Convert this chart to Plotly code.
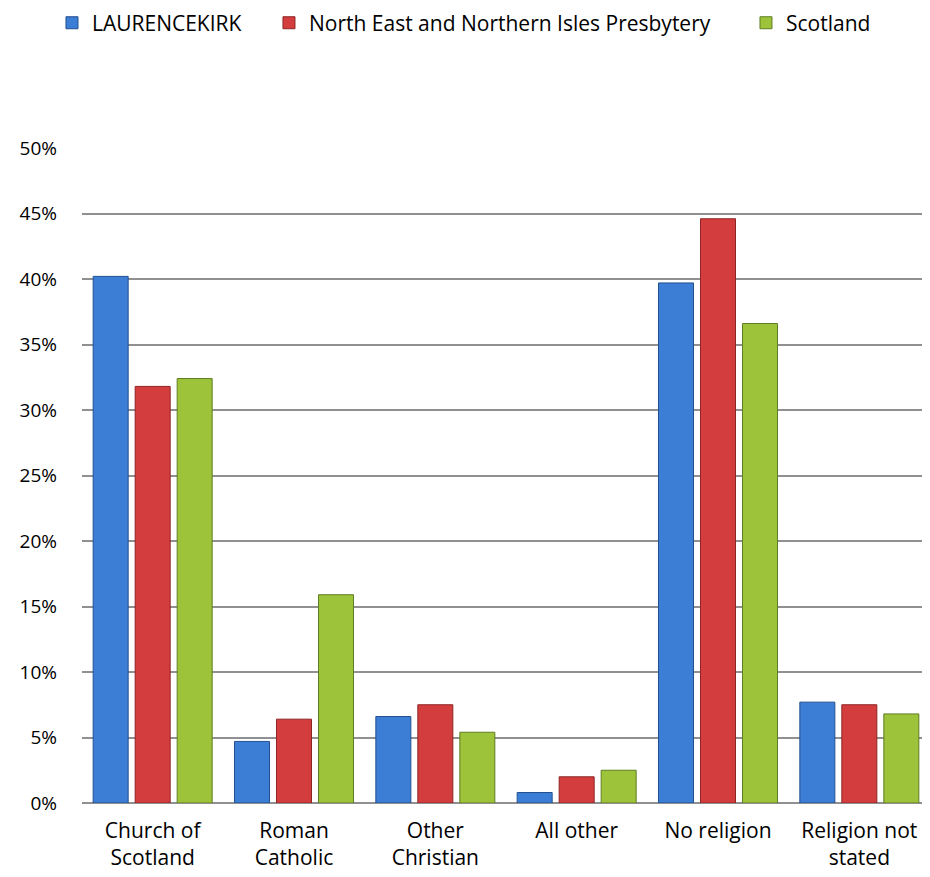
import plotly.graph_objects as go

categories = ["Church of<br>Scotland", "Roman<br>Catholic", "Other<br>Christian", "All other", "No religion", "Religion not<br>stated"]
laurencekirk = [40.2, 4.7, 6.6, 0.8, 39.7, 7.7]
presbytery = [31.8, 6.4, 7.5, 2.0, 44.6, 7.5]
scotland = [32.4, 15.9, 5.4, 2.5, 36.6, 6.8]
tick_vals = [0, 5, 10, 15, 20, 25, 30, 35, 40, 45, 50]
tick_text = ["0%", "5%", "10%", "15%", "20%", "25%", "30%", "35%", "40%", "45%", "50%"]

series = [
    ("LAURENCEKIRK", laurencekirk, "#3C7DD6", "#22508F", "legend", -0.0354),
    ("North East and Northern Isles Presbytery", presbytery, "#D43D3D", "#8E2525", "legend2", 0.2205),
    ("Scotland", scotland, "#9DC33B", "#5E7E22", "legend3", 0.783),
]

font_family = "Open Sans, Lato, sans-serif"
fig = go.Figure()
legends = {}
for name, vals, col, edge, lg, lx in series:
    fig.add_trace(go.Bar(
        name=name, x=categories, y=vals, legend=lg,
        marker=dict(color=col, line=dict(color=edge, width=1)),
    ))
    legends[lg] = dict(orientation="h", x=lx, xanchor="left", xref="paper",
                       y=1.222, yanchor="top", yref="paper",
                       font=dict(size=21, family=font_family, color="#000"),
                       itemwidth=30, bgcolor="rgba(0,0,0,0)")

fig.update_layout(
    width=922, height=869,
    margin=dict(l=74, r=0, t=140, b=74, autoexpand=False),
    paper_bgcolor="white", plot_bgcolor="white",
    barmode="group", bargap=0.1085, bargroupgap=0.1667,
    font=dict(family=font_family, size=21, color="#000000"),
    showlegend=True,
    xaxis=dict(showgrid=False, showline=False, ticks="", tickfont=dict(size=21),
               ticklabelstandoff=13, automargin=False),
    yaxis=dict(range=[0, 50], tickvals=tick_vals, ticktext=tick_text,
               showgrid=True, gridcolor="#909090", gridwidth=1.5,
               zeroline=True, zerolinecolor="#909090", zerolinewidth=1.5,
               showline=False, ticks="", ticklabelstandoff=24, tickfont=dict(size=19),
               automargin=False),
    **legends,
)

fig.write_html("out.html")
